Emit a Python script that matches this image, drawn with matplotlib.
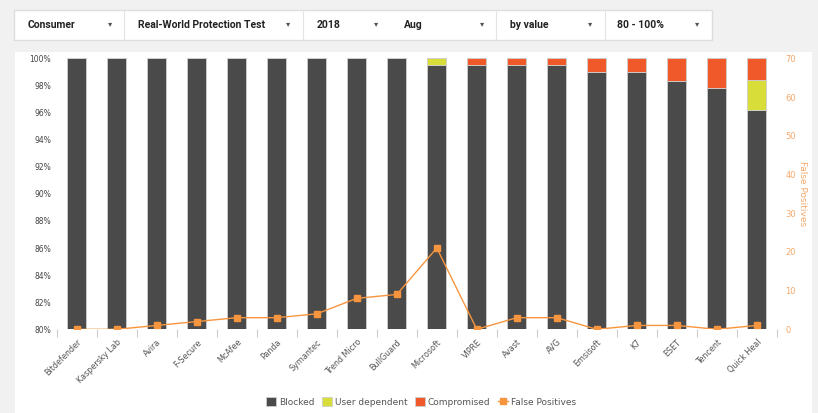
import matplotlib.pyplot as plt
from matplotlib.patches import Rectangle
import numpy as np

# Data
vendors = ['Bitdefender', 'Kaspersky Lab', 'Avira', 'F-Secure', 'McAfee', 'Panda',
           'Symantec', 'Trend Micro', 'BullGuard', 'Microsoft', 'VIPRE', 'Avast',
           'AVG', 'Emsisoft', 'K7', 'ESET', 'Tencent', 'Quick Heal']
blocked = [100, 100, 100, 100, 100, 100, 100, 100, 100, 99.5, 99.5, 99.5,
           99.5, 99.0, 99.0, 98.35, 97.8, 96.2]
user_dep = [0, 0, 0, 0, 0, 0, 0, 0, 0, 0.5, 0, 0, 0, 0, 0, 0, 0, 2.2]
compromised = [0, 0, 0, 0, 0, 0, 0, 0, 0, 0, 0.5, 0.5, 0.5, 1.0, 1.0, 1.65, 2.2, 1.6]
false_pos = [0, 0, 1, 2, 3, 3, 4, 8, 9, 21, 0, 3, 3, 0, 1, 1, 0, 1]

filters = ['Consumer', 'Real-World Protection Test', '2018', 'Aug', 'by value', '80 - 100%']

c_blocked = '#4a4a4a'
c_user = '#d8dd3a'
c_comp = '#f05a2b'
c_fp = '#f7953f'

W, H = 818, 413
fig = plt.figure(figsize=(W / 100, H / 100), dpi=100)
fig.patch.set_facecolor('#f1f1f1')

# white chart panel
fig.patches.append(Rectangle((15 / W, 0), 797 / W, 1 - 52 / H, transform=fig.transFigure,
                             facecolor='white', edgecolor='none', zorder=-5))
# filter bar
fig.patches.append(Rectangle((14 / W, 1 - 40 / H), 698 / W, 30 / H, transform=fig.transFigure,
                             facecolor='white', edgecolor='#dddddd', lw=1, zorder=-5))
text_x = [28, 138, 317, 404, 510, 617]
arrow_x = [110, 288, 376, 482, 590, 697]
sep_x = [124, 303, 496, 605]
for t, xx in zip(filters, text_x):
    fig.text(xx / W, 1 - 25 / H, t, fontsize=7.5, fontweight='bold', family='Roboto',
             color='#222222', va='center')
for xx in arrow_x:
    fig.text(xx / W, 1 - 24 / H, '\u25be', fontsize=6, color='#555555', va='center', ha='center')
for xx in sep_x:
    fig.lines.append(plt.Line2D([xx / W, xx / W], [1 - 40 / H, 1 - 10 / H],
                                transform=fig.transFigure, color='#e4e4e4', lw=0.8))

ax = fig.add_axes([56.8 / W, 1 - 329.3 / H, 720 / W, 271 / H])
ax.set_facecolor('none')
x = np.arange(len(vendors))
b = np.array(blocked)
u = np.array(user_dep)
c = np.array(compromised)
kw = dict(width=0.48, edgecolor='#cfcfcf', linewidth=0.6)
ax.bar(x, b - 80, bottom=80, color=c_blocked, label='Blocked', **kw)
ax.bar(x, u, bottom=b, color=c_user, label='User dependent', **kw)
ax.bar(x, c, bottom=b + u, color=c_comp, label='Compromised', **kw)

ax.set_xlim(-0.5, len(vendors) - 0.5)
ax.set_ylim(80, 100)
ax.set_yticks(range(80, 101, 2))
ax.set_yticklabels([f'{v}%' for v in range(80, 101, 2)])
ax.tick_params(axis='y', length=0, labelsize=5.5, labelcolor='#444444', pad=4)
ax.set_xticks(x)
ax.set_xticklabels(vendors, rotation=45, ha='right', rotation_mode='anchor',
                   fontsize=5.8, color='#555555')
ax.tick_params(axis='x', length=0, pad=6)
ax.set_xticks(np.arange(-0.5, len(vendors), 1), minor=True)
ax.tick_params(axis='x', which='minor', length=6, color='#cccccc', width=0.8)
for s in ax.spines.values():
    s.set_visible(False)

ax2 = ax.twinx()
ax2.plot(x, false_pos, color=c_fp, marker='s', markersize=4, lw=1.0, label='False Positives')
ax2.set_ylim(0, 70)
ax2.set_yticks(range(0, 71, 10))
ax2.tick_params(axis='y', length=0, labelsize=6, labelcolor='#f3a86a', pad=6)
ax2.set_ylabel('False Positives', color='#f3a86a', fontsize=6.5, rotation=270, labelpad=8)
for s in ax2.spines.values():
    s.set_visible(False)

h1, l1 = ax.get_legend_handles_labels()
h2, l2 = ax2.get_legend_handles_labels()
fig.legend(h1 + h2, l1 + l2, loc='center', bbox_to_anchor=(421 / W, 1 - 402 / H), ncol=4,
           frameon=False, fontsize=6.5, handlelength=1.1, handleheight=1.0,
           columnspacing=0.8, handletextpad=0.35, labelcolor='#555555')

fig.savefig('out.png', dpi=100)
